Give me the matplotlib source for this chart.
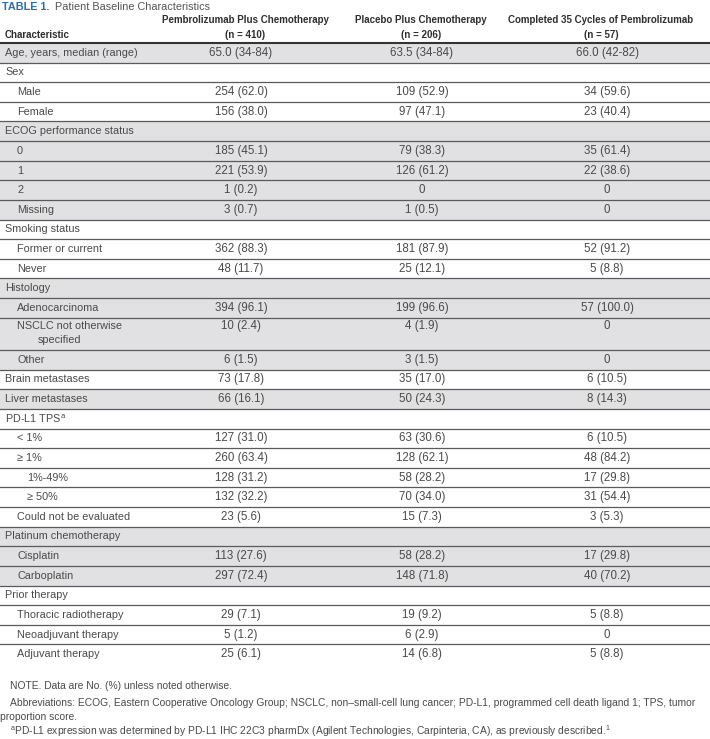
import matplotlib
matplotlib.use("Agg")
import matplotlib.pyplot as plt
import matplotlib.font_manager as fm

names = {f.name for f in fm.fontManager.ttflist}
body_font = "Liberation Sans Narrow" if "Liberation Sans Narrow" in names else "Liberation Sans"
plt.rcParams["font.family"] = [body_font, "DejaVu Sans"]
plt.rcParams["mathtext.fontset"] = "custom"
plt.rcParams["mathtext.rm"] = body_font

title_num = "TABLE 1."
title_txt = "Patient Baseline Characteristics"
col_head1 = ["Pembrolizumab Plus Chemotherapy", "Placebo Plus Chemotherapy", "Completed 35 Cycles of Pembrolizumab"]
col_head2 = ["(n = 410)", "(n = 206)", "(n = 57)"]

labels = ["Age, years, median (range)", "Sex", "Male", "Female",
          "ECOG performance status", "0", "1", "2", "Missing",
          "Smoking status", "Former or current", "Never",
          "Histology", "Adenocarcinoma", "NSCLC not otherwise\nspecified", "Other",
          "Brain metastases", "Liver metastases",
          "PD-L1 TPS$^{\\mathrm{a}}$", "< 1%", "\u2265 1%", "1%-49%", "\u2265 50%", "Could not be evaluated",
          "Platinum chemotherapy", "Cisplatin", "Carboplatin",
          "Prior therapy", "Thoracic radiotherapy", "Neoadjuvant therapy", "Adjuvant therapy"]
levels = [0, 0, 1, 1, 0, 1, 1, 1, 1, 0, 1, 1, 0, 1, 1, 1, 0, 0, 0, 1, 1, 2, 2, 1, 0, 1, 1, 0, 1, 1, 1]

pembro = ["65.0 (34-84)", "", "254 (62.0)", "156 (38.0)", "", "185 (45.1)", "221 (53.9)", "1 (0.2)", "3 (0.7)",
          "", "362 (88.3)", "48 (11.7)", "", "394 (96.1)", "10 (2.4)", "6 (1.5)", "73 (17.8)", "66 (16.1)",
          "", "127 (31.0)", "260 (63.4)", "128 (31.2)", "132 (32.2)", "23 (5.6)", "", "113 (27.6)", "297 (72.4)",
          "", "29 (7.1)", "5 (1.2)", "25 (6.1)"]
placebo = ["63.5 (34-84)", "", "109 (52.9)", "97 (47.1)", "", "79 (38.3)", "126 (61.2)", "0", "1 (0.5)",
           "", "181 (87.9)", "25 (12.1)", "", "199 (96.6)", "4 (1.9)", "3 (1.5)", "35 (17.0)", "50 (24.3)",
           "", "63 (30.6)", "128 (62.1)", "58 (28.2)", "70 (34.0)", "15 (7.3)", "", "58 (28.2)", "148 (71.8)",
           "", "19 (9.2)", "6 (2.9)", "14 (6.8)"]
completed = ["66.0 (42-82)", "", "34 (59.6)", "23 (40.4)", "", "35 (61.4)", "22 (38.6)", "0", "0",
             "", "52 (91.2)", "5 (8.8)", "", "57 (100.0)", "0", "0", "6 (10.5)", "8 (14.3)",
             "", "6 (10.5)", "48 (84.2)", "17 (29.8)", "31 (54.4)", "3 (5.3)", "", "17 (29.8)", "40 (70.2)",
             "", "5 (8.8)", "0", "5 (8.8)"]

notes = ["NOTE. Data are No. (%) unless noted otherwise.",
         "Abbreviations: ECOG, Eastern Cooperative Oncology Group; NSCLC, non\u2013small-cell lung cancer; PD-L1, programmed cell death ligand 1; TPS, tumor",
         "proportion score.",
         "$^{\\mathrm{a}}$PD-L1 expression was determined by PD-L1 IHC 22C3 pharmDx (Agilent Technologies, Carpinteria, CA), as previously described.$^{1}$"]

# layout / style
shaded = {0, 4, 5, 6, 7, 8, 12, 13, 14, 15, 17, 24, 25, 26}
shade_col = "#e1e0e2"
line_col = "#5a5a5a"
txt_col = "#4a4a4a"
head_col = "#2e2e2e"
indent_x = [5, 17, 27]
val_x = [241, 422, 607]
head_x = [245, 421, 601]
top, bottom = 43, 664
units = [1.65 if "\n" in l else 1.0 for l in labels]
h = (bottom - top) / sum(units)
fs_lab = 7.8
fs_val = 8.3
fs_head = 7.0
fs_note = 7.4

fig = plt.figure(figsize=(7.1, 7.39), dpi=100)
ax = fig.add_axes([0, 0, 1, 1])
ax.set_xlim(0, 710)
ax.set_ylim(739, 0)
ax.axis("off")

t1 = ax.text(2, 7, title_num, color="#2b6cb5", fontsize=7.8, fontweight="bold", va="center", ha="left")
fig.canvas.draw()
bb = t1.get_window_extent()
ax.text(bb.x1 + 6, 7, title_txt, color="#555555", fontsize=7.8, va="center", ha="left",
        transform=matplotlib.transforms.blended_transform_factory(matplotlib.transforms.IdentityTransform(), ax.transData))
ax.text(5, 35, "Characteristic", color=head_col, fontsize=fs_head, fontweight="bold", va="center")
for i in range(3):
    ax.text(head_x[i], 20, col_head1[i], color=head_col, fontsize=fs_head, fontweight="bold", ha="center", va="center")
    ax.text(head_x[i], 35, col_head2[i], color=head_col, fontsize=fs_head, fontweight="bold", ha="center", va="center")

y = top
for i, lab in enumerate(labels):
    rh = units[i] * h
    if i in shaded:
        ax.axhspan(y, y + rh, color=shade_col, lw=0, zorder=0)
    cy = y + h / 2 if "\n" not in lab else y + 8.5
    parts = lab.split("\n")
    ax.text(indent_x[levels[i]], cy, parts[0], color=txt_col, fontsize=fs_lab, va="center", ha="left")
    if len(parts) > 1:
        ax.text(38, cy + 14, parts[1], color=txt_col, fontsize=fs_lab, va="center", ha="left")
    for x, col in zip(val_x, [pembro, placebo, completed]):
        ax.text(x, cy, col[i], color=txt_col, fontsize=fs_val, va="center", ha="center")
    if i > 0:
        ax.axhline(y, color=line_col, lw=0.9, zorder=2)
    y += rh
ax.axhline(top, color="#333333", lw=1.5, zorder=3)

ax.text(10, 686, notes[0], color=txt_col, fontsize=fs_note, va="center")
ax.text(10, 703, notes[1], color=txt_col, fontsize=fs_note, va="center")
ax.text(0, 717, notes[2], color=txt_col, fontsize=fs_note, va="center")
ax.text(10, 731, notes[3], color=txt_col, fontsize=fs_note, va="center")

fig.savefig("out.png", dpi=100)
